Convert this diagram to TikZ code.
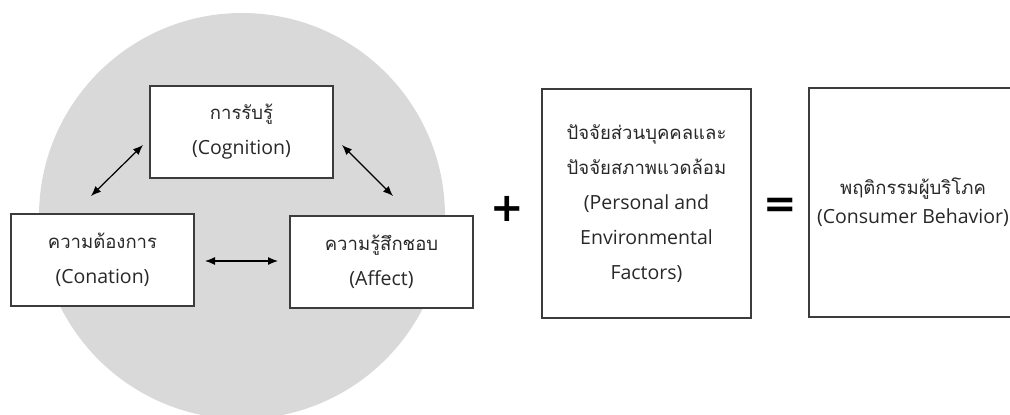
\documentclass[tikz,border=0pt]{standalone}
\usepackage{fontspec}
\setmainfont{Open Sans}
\newfontfamily\thaifont[Script=Thai,Scale=0.95]{Loma}
\newfontfamily\symfont{DejaVu Sans}
\usetikzlibrary{arrows.meta}
\definecolor{discgray}{RGB}{217,217,217}
\definecolor{edgegray}{RGB}{60,60,60}
\definecolor{inkgray}{RGB}{40,40,40}
\tikzset{
  box/.style={draw=edgegray, line width=1.1pt, fill=white, rectangle,
    align=center, inner sep=0pt, text=inkgray,
    font=\fontsize{19.5}{35}\selectfont},
  twoway/.style={line width=1.2pt, draw=black,
    {Latex[length=10pt,width=8pt]}-{Latex[length=10pt,width=8pt]}},
  opsign/.style={inner sep=0pt, text=black, font=\symfont\bfseries\fontsize{40}{40}\selectfont}
}
\begin{document}
\begin{tikzpicture}[x=1pt,y=-1pt]
\useasboundingbox (0,0) rectangle (1010,415);
\clip (0,0) rectangle (1010,415);

% attitude components on a shaded disc
\fill[discgray] (242,216) circle[radius=203];

\node[box, minimum width=183pt, minimum height=92pt] (cog) at (241.5,132)
  {{\thaifont การรับรู้}\\(Cognition)};
\node[box, minimum width=183pt, minimum height=92pt] (con) at (102.5,260)
  {{\thaifont ความต้องการ}\\(Conation)};
\node[box, minimum width=183pt, minimum height=92pt] (aff) at (381.5,262)
  {{\thaifont ความรู้สึกชอบ}\\(Affect)};

% arrow ends between the three components
\coordinate (cogL) at (143,145);
\coordinate (conT) at (91,196);
\coordinate (cogR) at (342,145);
\coordinate (affT) at (393,196);
\coordinate (conR) at (205,261);
\coordinate (affL) at (278,261);
\draw[twoway] (cogL) -- (conT);
\draw[twoway] (cogR) -- (affT);
\draw[twoway] (conR) -- (affL);

% personal and environmental factors
\node[opsign] (plus) at (507,209) {+};
\node[box, minimum width=209pt, minimum height=229pt] (fac) at (646.5,203.5)
  {{\thaifont ปัจจัยส่วนบุคคลและ}\\{\thaifont ปัจจัยสภาพแวดล้อม}\\(Personal and\\Environmental\\Factors)};

% resulting behaviour
\node[opsign] (eq) at (780,207.5) {=};
\node[box, minimum width=208pt, minimum height=229pt,
  font=\fontsize{19.5}{29}\selectfont] (beh) at (913,202.5)
  {{\thaifont พฤติกรรมผู้บริโภค}\\(Consumer Behavior)};
\end{tikzpicture}
\end{document}
